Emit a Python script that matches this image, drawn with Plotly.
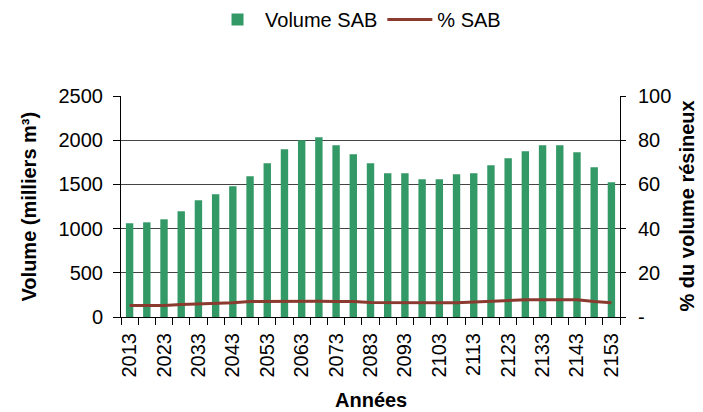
import plotly.graph_objects as go

years = list(range(2013, 2154, 5))
volume_sab = [1060, 1071, 1105, 1196, 1320, 1388, 1479, 1592, 1739, 1897, 2000, 2033, 1942, 1840, 1740,
              1626, 1626, 1557, 1557, 1614, 1626, 1716, 1795, 1874, 1942, 1942, 1863, 1693, 1524]
pct_sab = [5.2, 5.2, 5.2, 5.6, 5.8, 6.3, 6.4, 7.0, 7.1, 7.1, 7.1, 7.1, 7.0, 7.0, 6.6,
           6.5, 6.5, 6.4, 6.5, 6.5, 6.8, 7.2, 7.6, 7.8, 7.8, 7.9, 7.8, 7.0, 6.5]
label_years = years[::2]
left_ticks = [0, 500, 1000, 1500, 2000, 2500]
right_ticks = [0, 20, 40, 60, 80, 100]
right_text = ["-", "20", "40", "60", "80", "100"]
step = 5
boundaries = [y - step / 2 for y in years] + [years[-1] + step / 2]

FONT = "Liberation Sans, Arial, sans-serif"
ML, MR, MT, MB = 121, 83, 96, 95
W, H = 703, 412
plot_w = W - ML - MR
plot_h = H - MT - MB

fig = go.Figure()
fig.add_trace(go.Bar(x=years, y=volume_sab, name="Volume SAB", marker_color="#339966",
                     marker_line_width=0, width=step * 0.43))
fig.add_trace(go.Scatter(x=years, y=pct_sab, name="% SAB", yaxis="y2", mode="lines",
                         line=dict(color="#8B3A2F", width=3)))

fig.update_layout(
    width=W, height=H,
    margin=dict(l=ML, r=MR, t=MT, b=MB, autoexpand=False),
    paper_bgcolor="white", plot_bgcolor="white",
    font=dict(family=FONT, size=19, color="#000"),
    showlegend=True,
    legend=dict(orientation="h", x=0.475, xanchor="center", y=1.0, yref="container", yanchor="top",
                font=dict(size=20), tracegroupgap=0, itemwidth=45),
    xaxis=dict(range=[boundaries[0], boundaries[-1]], tickmode="array", tickvals=label_years,
               ticktext=[str(y) for y in label_years], tickangle=-90,
               ticks="outside", ticklen=7, tickcolor="rgba(0,0,0,0)",
               showline=True, linecolor="#000", linewidth=1, showgrid=False, zeroline=False,
               tickfont=dict(size=20), automargin=False,
               minor=dict(tickmode="array", tickvals=boundaries, ticks="outside", ticklen=7,
                          tickcolor="#000", showgrid=False)),
    xaxis2=dict(range=[boundaries[0], boundaries[-1]], overlaying="x", anchor="y", side="bottom",
                tickmode="array", tickvals=boundaries, ticks="inside", ticklen=5, tickcolor="#000",
                showticklabels=False, showgrid=False, zeroline=False, showline=False),
    yaxis=dict(range=[0, 2500], tickmode="array", tickvals=left_ticks, ticks="outside", ticklen=7,
               tickcolor="#000", showline=True, linecolor="#000", linewidth=1,
               showgrid=True, gridcolor="#444", gridwidth=1, zeroline=False,
               tickfont=dict(size=20), ticklabelstandoff=6, automargin=False),
    yaxis2=dict(range=[0, 100], overlaying="y", side="right", tickmode="array", tickvals=right_ticks,
                ticktext=right_text, ticks="outside", ticklen=5, tickcolor="#000",
                showline=True, linecolor="#000", linewidth=1, showgrid=False, zeroline=False,
                tickfont=dict(size=20), ticklabelstandoff=8, automargin=False),
    annotations=[
        dict(text="<b>Volume (milliers m³)</b>", x=(28 - ML) / plot_w, xref="paper", xanchor="center",
             y=0.5, yref="paper", yanchor="middle", textangle=-90, showarrow=False,
             font=dict(size=20)),
        dict(text="<b>Années</b>", x=0.5, xref="paper", xanchor="center",
             y=(H - MB - 400) / plot_h, yref="paper",
             yanchor="middle", showarrow=False, font=dict(size=20)),
        dict(text="<b>% du volume résineux</b>", x=(686 - ML) / plot_w, xref="paper", xanchor="center",
             y=0.5, yref="paper", yanchor="middle", textangle=-90, showarrow=False,
             font=dict(size=20)),
    ],
)
fig.write_html("out.html", config={"displayModeBar": False},
               post_script="document.body.style.margin='0';document.body.style.overflow='hidden';")
